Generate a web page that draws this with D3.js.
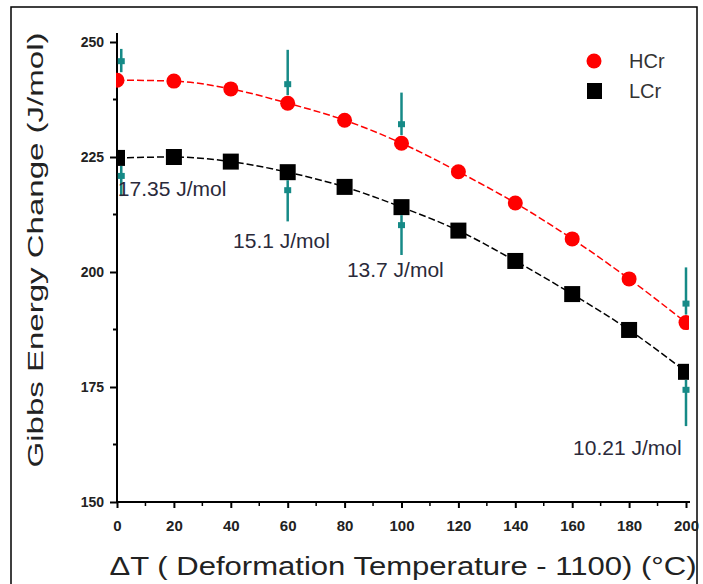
<!DOCTYPE html>
<html>
<head>
<meta charset="utf-8">
<script src="https://cdn.jsdelivr.net/npm/d3@7/dist/d3.min.js"></script>
<style>
  html, body { margin: 0; padding: 0; background: #fff; }
  svg { display: block; }
  text { font-family: "Liberation Sans", Arial, sans-serif; }
</style>
</head>
<body>
<script>
// ---- data ----
const temps = [0, 20, 40, 60, 80, 100, 120, 140, 160, 180, 200];
const hcr = [241.7, 241.5, 239.8, 236.7, 233.0, 228.0, 221.8, 215.0, 207.2, 198.5, 189.0];
const lcr = [224.8, 225.0, 224.0, 221.7, 218.5, 214.1, 209.0, 202.4, 195.2, 187.4, 178.3];
const seriesNames = ["HCr", "LCr"];
const arrowX = [1.5, 60, 100, 200];
const arrowTop = [248.5, 248.3, 239.0, 201.0];
const arrowBottom = [216.5, 211.0, 203.7, 166.5];
const annoText = ["17.35 J/mol", "15.1 J/mol", "13.7 J/mol", "10.21 J/mol"];
const annoX = [0.3, 40.8, 80.8, 160.3];
const annoY = [216.6, 205.2, 199.0, 160.2];
const xTicks = [0, 20, 40, 60, 80, 100, 120, 140, 160, 180, 200];
const yTicks = [150, 175, 200, 225, 250];

const W = 703, H = 584;
const svg = d3.select("body").append("svg").attr("width", W).attr("height", H);

// outer frame
svg.append("rect").attr("x", 11).attr("y", 7).attr("width", 686).attr("height", 600)
  .attr("fill", "none").attr("stroke", "#000").attr("stroke-width", 1.5);

const x = d3.scaleLinear().domain([0, 200]).range([117, 686]);
const y = d3.scaleLinear().domain([150, 250]).range([502, 42]);

// clip for data
svg.append("clipPath").attr("id", "clip").append("rect")
  .attr("x", 116).attr("y", 20).attr("width", 573).attr("height", 482);

// axes
const xAxis = d3.axisBottom(x).tickValues(xTicks).tickSize(6).tickSizeOuter(0).tickPadding(12);
const gx = svg.append("g").attr("transform", "translate(0,502)").call(xAxis);
gx.select(".domain").attr("d", "M117,0H690").attr("stroke-width", 2);
gx.selectAll(".tick line").attr("stroke-width", 2);
gx.selectAll("text").attr("font-size", 15).attr("font-weight", "bold").attr("fill", "#222");
// minor x ticks
svg.append("g").selectAll("line").data(d3.range(10, 200, 20)).join("line")
  .attr("x1", d => x(d)).attr("x2", d => x(d)).attr("y1", 502).attr("y2", 506)
  .attr("stroke", "#000").attr("stroke-width", 1.5);

const yAxis = d3.axisLeft(y).tickValues(yTicks).tickSize(7).tickSizeOuter(0).tickPadding(6);
const gy = svg.append("g").attr("transform", "translate(117,0)").call(yAxis);
gy.select(".domain").attr("d", "M0,33V502").attr("stroke-width", 2);
gy.selectAll(".tick line").attr("stroke-width", 2);
gy.selectAll("text").attr("font-size", 14).attr("font-weight", "bold").attr("fill", "#222");
svg.append("g").selectAll("line").data([162.5, 187.5, 212.5, 237.5]).join("line")
  .attr("x1", 113).attr("x2", 117).attr("y1", d => y(d)).attr("y2", d => y(d))
  .attr("stroke", "#000").attr("stroke-width", 2);

// axis titles
svg.append("text").attr("x", 403).attr("y", 575).attr("text-anchor", "middle")
  .attr("font-size", 25).attr("fill", "#222")
  .attr("textLength", 587).attr("lengthAdjust", "spacingAndGlyphs")
  .text("\u0394T ( Deformation Temperature - 1100) (\u00B0C)");
svg.append("text").attr("transform", "translate(43,250) rotate(-90)").attr("text-anchor", "middle")
  .attr("font-size", 22).attr("fill", "#222")
  .attr("textLength", 435).attr("lengthAdjust", "spacingAndGlyphs")
  .text("Gibbs Energy Change (J/mol)");

const plot = svg.append("g").attr("clip-path", "url(#clip)");
const line = d3.line().x((d, i) => x(temps[i])).y(d => y(d)).curve(d3.curveMonotoneX);

plot.append("path").attr("d", line(hcr)).attr("fill", "none").attr("stroke", "#ff0000")
  .attr("stroke-width", 1.5).attr("stroke-dasharray", "7,3");
plot.append("path").attr("d", line(lcr)).attr("fill", "none").attr("stroke", "#000")
  .attr("stroke-width", 1.5).attr("stroke-dasharray", "7,3");

// markers
plot.selectAll(".hc").data(hcr).join("circle")
  .attr("cx", (d, i) => x(temps[i])).attr("cy", d => y(d)).attr("r", 7.5).attr("fill", "#ff0000");
plot.selectAll(".lc").data(lcr).join("rect")
  .attr("x", (d, i) => x(temps[i]) - 8).attr("y", d => y(d) - 8).attr("width", 16).attr("height", 16).attr("fill", "#000");

// arrows
const teal = "#168a87";
const arr = svg.append("g");
arrowX.forEach((ax, i) => {
  const px = x(ax);
  const iT = temps.indexOf(Math.round(ax / 20) * 20);
  const topEnd = y(hcr[iT]) - 8;
  const botEnd = y(lcr[iT]) + 8;
  arr.append("line").attr("x1", px).attr("x2", px).attr("y1", y(arrowTop[i])).attr("y2", topEnd)
    .attr("stroke", teal).attr("stroke-width", 2.5);
  arr.append("rect").attr("x", px - 3.5).attr("y", topEnd - 14).attr("width", 7).attr("height", 6).attr("fill", teal);
  arr.append("line").attr("x1", px).attr("x2", px).attr("y1", botEnd).attr("y2", y(arrowBottom[i]))
    .attr("stroke", teal).attr("stroke-width", 2.5);
  arr.append("rect").attr("x", px - 3.5).attr("y", botEnd + 7).attr("width", 7).attr("height", 6).attr("fill", teal);
});

// annotations
svg.append("g").selectAll("text").data(annoText).join("text")
  .attr("x", (d, i) => x(annoX[i])).attr("y", (d, i) => y(annoY[i]))
  .attr("font-size", 21).attr("fill", "#2a2a3a").text(d => d);

// legend
const lg = svg.append("g");
lg.append("circle").attr("cx", 594).attr("cy", 61).attr("r", 7.5).attr("fill", "#ff0000");
lg.append("rect").attr("x", 587).attr("y", 83).attr("width", 15).attr("height", 16).attr("fill", "#000");
lg.selectAll("text").data(seriesNames).join("text")
  .attr("x", 629).attr("y", (d, i) => 68 + i * 30).attr("font-size", 20).attr("fill", "#333").text(d => d);
</script>
</body>
</html>
